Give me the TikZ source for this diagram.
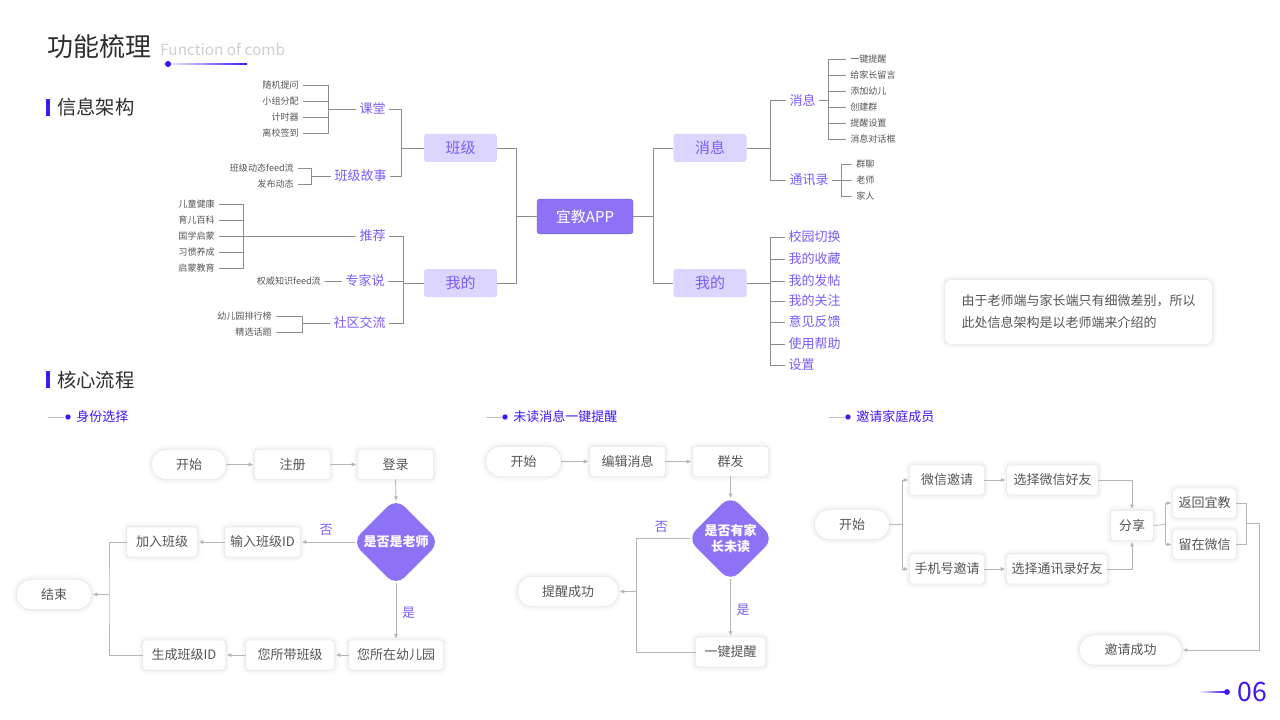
\documentclass[tikz,border=0pt]{standalone}
\usepackage{fontspec}
\setmainfont{Noto Sans CJK SC}
\usetikzlibrary{shapes.geometric,arrows.meta}
\definecolor{accent}{HTML}{4316F2}
\definecolor{purp}{HTML}{7B5CF6}
\definecolor{lightp}{HTML}{DCD5FD}
\definecolor{midp}{HTML}{8D72F6}
\definecolor{tgray}{HTML}{8C8C8C}
\definecolor{fgray}{HTML}{B5B5B5}
\definecolor{txt}{HTML}{555555}
\definecolor{dark}{HTML}{2E2E2E}
\definecolor{lgray}{HTML}{CFCFCF}
\newcommand\fsleaf{\fontsize{6.8}{8}\selectfont}
\newcommand\fsmid{\fontsize{9.75}{11}\selectfont}
\newcommand\fscat{\fontsize{11.25}{13}\selectfont}
\newcommand\fsbox{\fontsize{9.75}{12}\selectfont}
\begin{document}
\begin{tikzpicture}[x=0.75pt,y=-0.75pt,
  tl/.style={draw=tgray, line width=0.6pt},
  leaf/.style={font=\fsleaf, text=txt, inner xsep=3pt, inner ysep=1pt},
  midlabel/.style={font=\fsmid, text=purp, inner xsep=2.5pt, inner ysep=1pt},
  catbox/.style={fill=lightp, rounded corners=2pt, text=purp, font=\fscat, minimum width=54.75pt, minimum height=21pt, inner sep=0pt},
  appbox/.style={fill=midp, draw=midp!85!black, line width=0.3pt, rounded corners=2pt, text=white, font=\fscat, minimum width=72pt, minimum height=26pt, inner sep=0pt},
  softshadow/.style={
    preaction={draw=black, draw opacity=0.018, line width=7pt},
    preaction={draw=black, draw opacity=0.025, line width=4pt},
    preaction={draw=black, draw opacity=0.035, line width=1.6pt}},
  fbox/.style={softshadow, fill=white, rounded corners=2.5pt, text=txt, font=\fsbox, minimum height=22pt, inner xsep=2pt},
  stad/.style={fbox, rounded corners=11pt},
  dia/.style={diamond, fill=midp, rounded corners=9pt, minimum size=66pt, inner sep=0pt},
  diatext/.style={text=white, font=\fsbox\bfseries, align=center},
  farrow/.style={draw=fgray, line width=0.6pt, -{Latex[length=3.5pt,width=3pt]}, shorten >=1pt},
  fline/.style={draw=fgray, line width=0.6pt},
  intodia/.style={shorten >=-2.5pt},
  fromdia/.style={shorten <=-2.5pt},
  flabel/.style={text=purp, font=\fsbox},
  subhead/.style={text=accent, font=\fsbox, anchor=west, inner sep=0pt},
  head/.style={anchor=west, font=\fontsize{14.5}{17}\selectfont, text=dark, inner sep=0pt},
  notebox/.style={softshadow, fill=white, rounded corners=4pt, text=txt, font=\fontsize{9.75}{16.5}\selectfont, align=left, minimum width=200pt, minimum height=48pt}
]
\fill[white] (0,0) rectangle (1280,720);
\useasboundingbox (0,0) rectangle (1280,720);

% ---------- title ----------
\node[anchor=west, font=\fontsize{19.5}{22}\selectfont, text=dark, inner sep=0pt] (title) at (47,47) {功能梳理};
\node[anchor=west, font=\fontsize{11.5}{14}\selectfont, text=lgray, inner sep=0pt] (subtitle) at (160,49) {Function of comb};
\shade[left color=accent!8, right color=accent] (168,63.2) rectangle (247,64.8);
\fill[accent] (168,64) circle (2.3pt);

% ---------- section headings ----------
\fill[accent] (46,99) rectangle (50,116);
\node[head] (h1) at (57,107) {信息架构};
\fill[accent] (46,371) rectangle (50,388);
\node[head] (h2) at (57,380) {核心流程};

% ---------- left tree ----------
\foreach \t/\y/\n in {随机提问/85/a1,小组分配/101/a2,计时器/117/a3,离校签到/133/a4}
  \node[leaf,anchor=east] (\n) at (303,\y) {\t};
\coordinate (ka) at (328,109);
\node[midlabel,anchor=west] (kt) at (356,109) {课堂};
\draw[tl] (a1.east) -| (ka);
\draw[tl] (a4.east) -| (ka);
\draw[tl] (a2.east) -- (a2.east -| ka);
\draw[tl] (a3.east) -- (a3.east -| ka);
\draw[tl] (ka) -- (kt.west);

\node[leaf,anchor=east] (b1) at (298,168) {班级动态feed流};
\node[leaf,anchor=east] (b2) at (298,184) {发布动态};
\coordinate (kb) at (311,176);
\node[midlabel,anchor=west] (gs) at (331,176) {班级故事};
\draw[tl] (b1.east) -| (kb);
\draw[tl] (b2.east) -| (kb);
\draw[tl] (kb) -- (gs.west);

\node[catbox] (bj) at (460.5,148) {班级};
\coordinate (kc) at (401,148);
\draw[tl] (kt.east) -| (kc);
\draw[tl] (gs.east) -| (kc);
\draw[tl] (kc) -- (bj.west);

\foreach \t/\y/\n in {儿童健康/204/c1,育儿百科/220/c2,国学启蒙/236/c3,习惯养成/252/c4,启蒙教育/268/c5}
  \node[leaf,anchor=east] (\n) at (219,\y) {\t};
\coordinate (kd) at (243,236);
\node[midlabel,anchor=west] (tj) at (356,236) {推荐};
\draw[tl] (c1.east) -| (kd);
\draw[tl] (c5.east) -| (kd);
\draw[tl] (c2.east) -- (c2.east -| kd);
\draw[tl] (c4.east) -- (c4.east -| kd);
\draw[tl] (c3.east) -- (tj.west);

\node[leaf,anchor=east] (e1) at (325,281) {权威知识feed流};
\node[midlabel,anchor=west] (zj) at (342,281) {专家说};
\draw[tl] (e1.east) -- (zj.west);

\node[leaf,anchor=east] (f1) at (276,316) {幼儿园排行榜};
\node[leaf,anchor=east] (f2) at (276,332) {精选话题};
\coordinate (ke) at (302,323);
\node[midlabel,anchor=west] (sq) at (330,323) {社区交流};
\draw[tl] (f1.east) -| (ke);
\draw[tl] (f2.east) -| (ke);
\draw[tl] (ke) -- (sq.west);

\node[catbox] (wd) at (460.5,283) {我的};
\coordinate (kf) at (403,283);
\draw[tl] (tj.east) -| (kf);
\draw[tl] (sq.east) -| (kf);
\draw[tl] (zj.east) -| (kf);
\draw[tl] (kf) -- (wd.west);

% ---------- centre ----------
\node[appbox] (app) at (585,216.5) {宜教APP};
\coordinate (kg) at (516,216.5);
\draw[tl] (bj.east) -| (kg);
\draw[tl] (wd.east) -| (kg);
\draw[tl] (kg) -- (app.west);
\coordinate (kh) at (653,216.5);
\node[catbox] (xx) at (710,148) {消息};
\node[catbox] (wd2) at (710,283) {我的};
\draw[tl] (app.east) -- (kh);
\draw[tl] (kh) |- (xx.west);
\draw[tl] (kh) |- (wd2.west);

% ---------- right tree ----------
\coordinate (ki) at (770,148);
\node[midlabel,anchor=west] (xl) at (786,100) {消息};
\node[midlabel,anchor=west] (tx) at (786,180) {通讯录};
\draw[tl] (xx.east) -- (ki);
\draw[tl] (ki) |- (xl.west);
\draw[tl] (ki) |- (tx.west);
\coordinate (kj) at (828,100);
\draw[tl] (xl.east) -- (kj);
\foreach \t/\y/\n in {一键提醒/59/g1,给家长留言/75/g2,添加幼儿/91/g3,创建群/107/g4,提醒设置/123/g5,消息对话框/139/g6}{
  \node[leaf,anchor=west] (\n) at (846,\y) {\t};
  \draw[tl] (kj) |- (\n.west);
}
\coordinate (kk) at (841,180);
\draw[tl] (tx.east) -- (kk);
\foreach \t/\y/\n in {群聊/164/m1,老师/180/m2,家人/196/m3}{
  \node[leaf,anchor=west] (\n) at (852,\y) {\t};
  \draw[tl] (kk) |- (\n.west);
}
\coordinate (kl) at (770,283);
\draw[tl] (wd2.east) -- (kl);
\foreach \t/\y/\n in {校园切换/237/i1,我的收藏/259/i2,我的发帖/281/i3,我的关注/301/i4,意见反馈/322/i5,使用帮助/344/i6,设置/365/i7}{
  \node[midlabel,anchor=west] (\n) at (785,\y) {\t};
  \draw[tl] (kl) |- (\n.west);
}

% ---------- note ----------
\node[notebox] (note) at (1078.5,312) {由于老师端与家长端只有细微差别，所以\\此处信息架构是以老师端来介绍的};

% ---------- sub headings ----------
\draw[tl, draw=lgray!80!gray] (48,417) -- (64,417);
\fill[accent] (68,417) circle (2pt);
\node[subhead] (sh1) at (76,417) {身份选择};
\draw[tl, draw=lgray!80!gray] (486,417) -- (502,417);
\fill[accent] (505,417) circle (2pt);
\node[subhead] (sh2) at (513,417) {未读消息一键提醒};
\draw[tl, draw=lgray!80!gray] (829,417) -- (845,417);
\fill[accent] (848,417) circle (2pt);
\node[subhead] (sh3) at (856,417) {邀请家庭成员};

% ---------- flow 1 ----------
\node[stad, minimum width=55.5pt] (s1) at (189,464.5) {开始};
\node[fbox, minimum width=56.25pt] (zc) at (292.5,464.5) {注册};
\node[fbox, minimum width=56.25pt] (dl) at (395.5,464.5) {登录};
\node[dia, label={[diatext]center:是否是老师}] (d1) at (396,542) {};
\node[fbox, minimum width=56.25pt] (sr) at (262.5,542) {输入班级ID};
\node[fbox, minimum width=52.5pt] (jr) at (162,542) {加入班级};
\node[stad, minimum width=55.5pt] (js) at (54,594.5) {结束};
\node[fbox, minimum width=70.5pt] (zy) at (396,655) {您所在幼儿园};
\node[fbox, minimum width=66pt] (dd) at (290,655) {您所带班级};
\node[fbox, minimum width=61.5pt] (scid) at (184,655) {生成班级ID};
\coordinate (k1) at (109,594.5);
\draw[farrow] (s1.east) -- (zc.west);
\draw[farrow] (zc.east) -- (dl.west);
\draw[farrow, intodia] (dl.south) -- (d1.north);
\draw[farrow, fromdia] (d1.west) -- node[flabel, above, yshift=1pt] {否} (sr.east);
\draw[farrow] (sr.west) -- (jr.east);
\draw[fline] (jr.west) -| (k1) |- (scid.west);
\draw[farrow] (k1) -- (js.east);
\draw[farrow, fromdia] (d1.south) -- node[flabel, right, xshift=1pt] {是} (zy.north);
\draw[farrow] (zy.west) -- (dd.east);
\draw[farrow] (dd.west) -- (scid.east);

% ---------- flow 2 ----------
\node[stad, minimum width=56pt] (s2) at (523.5,461.5) {开始};
\node[fbox, minimum width=56.25pt] (bx) at (627.5,461.5) {编辑消息};
\node[fbox, minimum width=56.25pt] (qf) at (730.5,461.5) {群发};
\node[dia, minimum size=65pt, label={[diatext]center:{是否有家\\长未读}}] (d2) at (730.5,538.5) {};
\node[stad, minimum width=75pt] (txcg) at (568,591.5) {提醒成功};
\node[fbox, minimum width=52pt] (yj) at (730.5,652) {一键提醒};
\coordinate (k2) at (636,591.5);
\draw[farrow] (s2.east) -- (bx.west);
\draw[farrow] (bx.east) -- (qf.west);
\draw[farrow, intodia] (qf.south) -- (d2.north);
\draw[fline, fromdia] (d2.west) -- node[flabel, above, yshift=1pt] {否} (d2.west -| k2) |- (yj.west);
\draw[farrow] (k2) -- (txcg.east);
\draw[farrow, fromdia] (d2.south) -- node[flabel, right, xshift=1pt] {是} (yj.north);

% ---------- flow 3 ----------
\node[stad, minimum width=55.5pt] (s3) at (852,524.5) {开始};
\node[fbox, minimum width=55.5pt] (wx) at (947,480) {微信邀请};
\node[fbox, minimum width=55.5pt] (sjh) at (947,569) {手机号邀请};
\node[fbox, minimum width=68pt] (xw) at (1052.5,480) {选择微信好友};
\node[fbox, minimum width=75pt] (xt) at (1057,569) {选择通讯录好友};
\node[fbox, minimum width=31.5pt] (fx) at (1132,525.5) {分享};
\node[fbox, minimum width=47pt] (fh) at (1204.5,503) {返回宜教};
\node[fbox, minimum width=47pt] (lz) at (1204.5,544.5) {留在微信};
\node[stad, minimum width=76pt] (yq) at (1130.5,650) {邀请成功};
\coordinate (k3) at (902,524.5);
\draw[fline] (s3.east) -- (k3);
\draw[farrow] (k3) |- (wx.west);
\draw[farrow] (k3) |- (sjh.west);
\draw[farrow] (wx.east) -- (xw.west);
\draw[farrow] (sjh.east) -- (xt.west);
\draw[farrow] (xw.east) -| (fx.north);
\draw[farrow] (xt.east) -| (fx.south);
\coordinate (k4) at (1165,524.5);
\draw[fline] (fx.east) -- (k4);
\draw[farrow] (k4) |- (fh.west);
\draw[farrow] (k4) |- (lz.west);
\coordinate (k5) at (1246,523.5);
\coordinate (k6) at (1259,523.5);
\draw[fline] (fh.east) -| (k5);
\draw[fline] (lz.east) -| (k5);
\draw[farrow] (k5) -- (k6) |- (yq.east);

% ---------- page number ----------
\shade[left color=accent!10, right color=accent] (1201,691.3) rectangle (1225,692.7);
\fill[accent] (1227,692) circle (2.2pt);
\node[anchor=west, inner sep=0pt, text=accent, font=\fontsize{20}{22}\selectfont] (pg) at (1237,692) {06};
\end{tikzpicture}
\end{document}
